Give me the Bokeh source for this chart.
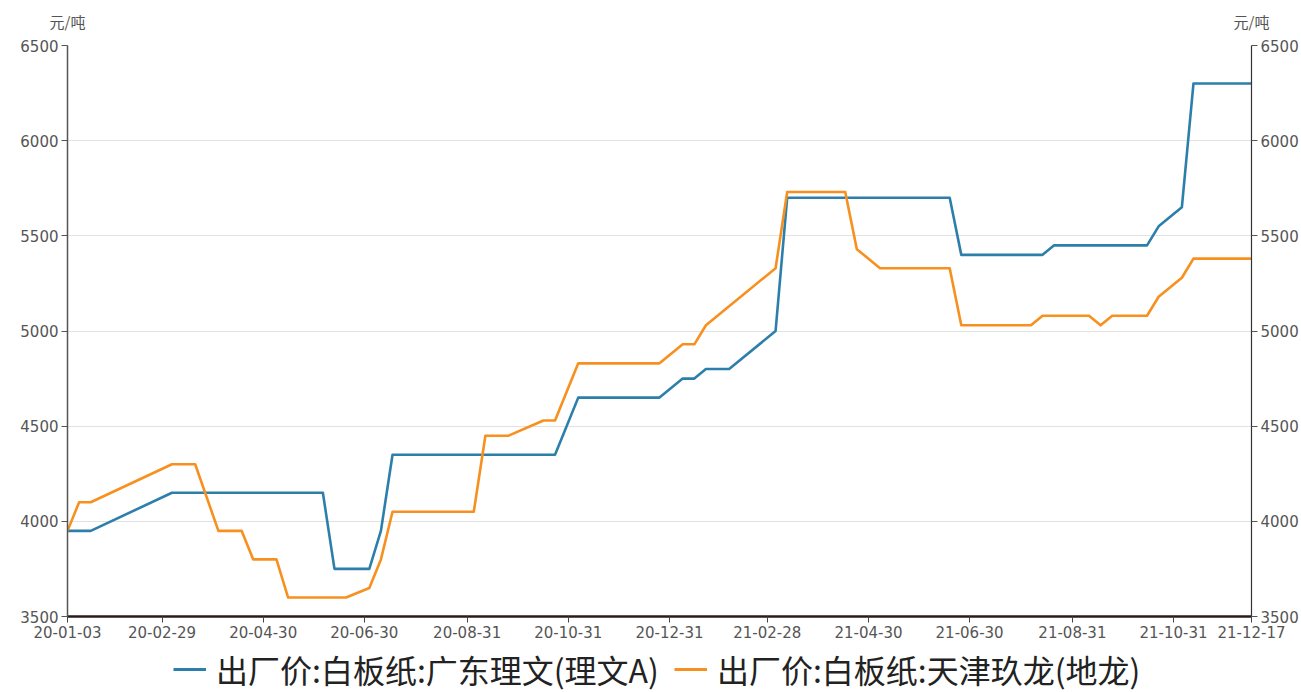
import pandas as pd
from bokeh.plotting import figure
from bokeh.layouts import column
from bokeh.models import (Range1d, LinearAxis, FixedTicker, DatetimeTickFormatter,
                          Legend, LegendItem, SingleIntervalTicker, CustomJSTickFormatter)
from bokeh.embed import file_html
from bokeh.resources import INLINE

# ---------------- data ----------------
tick_dates = ["2020-01-03", "2020-02-29", "2020-04-30", "2020-06-30", "2020-08-31",
              "2020-10-31", "2020-12-31", "2021-02-28", "2021-04-30", "2021-06-30",
              "2021-08-31", "2021-10-31", "2021-12-17"]

name_a = "出厂价:白板纸:广东理文(理文A)"
dates_a = ["2020-01-03", "2020-01-17", "2020-03-06", "2020-06-05", "2020-06-12",
           "2020-07-03", "2020-07-10", "2020-07-17", "2020-10-23", "2020-11-06",
           "2020-12-25", "2021-01-08", "2021-01-15", "2021-01-22", "2021-02-05",
           "2021-03-05", "2021-03-12", "2021-06-18", "2021-06-25", "2021-08-13",
           "2021-08-20", "2021-10-15", "2021-10-22", "2021-11-05", "2021-11-12",
           "2021-12-17"]
vals_a = [3950, 3950, 4150, 4150, 3750, 3750, 3950, 4350, 4350, 4650,
          4650, 4750, 4750, 4800, 4800, 5000, 5700, 5700, 5400, 5400,
          5450, 5450, 5550, 5650, 6300, 6300]

name_b = "出厂价:白板纸:天津玖龙(地龙)"
dates_b = ["2020-01-03", "2020-01-10", "2020-01-17", "2020-03-06", "2020-03-20",
           "2020-04-03", "2020-04-17", "2020-04-24", "2020-05-08", "2020-05-15",
           "2020-06-19", "2020-07-03", "2020-07-10", "2020-07-17", "2020-09-04",
           "2020-09-11", "2020-09-25", "2020-10-16", "2020-10-23", "2020-11-06",
           "2020-12-25", "2021-01-08", "2021-01-15", "2021-01-22", "2021-03-05",
           "2021-03-12", "2021-04-16", "2021-04-23", "2021-05-07", "2021-06-18",
           "2021-06-25", "2021-08-06", "2021-08-13", "2021-09-10", "2021-09-17",
           "2021-09-24", "2021-10-15", "2021-10-22", "2021-11-05", "2021-11-12",
           "2021-12-17"]
vals_b = [3950, 4100, 4100, 4300, 4300, 3950, 3950, 3800, 3800, 3600,
          3600, 3650, 3800, 4050, 4050, 4450, 4450, 4530, 4530, 4830,
          4830, 4930, 4930, 5030, 5330, 5730, 5730, 5430, 5330, 5330,
          5030, 5030, 5080, 5080, 5030, 5080, 5080, 5180, 5280, 5380,
          5380]

y_min, y_max, y_step = 3500, 6500, 500
unit = "元/吨"

# ---------------- main figure ----------------
xa = pd.to_datetime(dates_a)
xb = pd.to_datetime(dates_b)
ticks = pd.to_datetime(tick_dates)
x0, x1 = ticks[0], ticks[-1]

W = 1301
p = figure(width=W, height=644, x_axis_type="datetime",
           x_range=Range1d(x0, x1), y_range=Range1d(y_min, y_max),
           output_backend="svg", toolbar_location=None,
           min_border_left=67, min_border_right=49, min_border_top=45,
           min_border_bottom=28)
p.title.visible = False
p.outline_line_color = None
p.background_fill_color = "white"
p.border_fill_color = "white"

blue = "#2d7fab"
orange = "#f7901e"
p.line(xa, vals_a, line_color=blue, line_width=2.6, line_join="round")
p.line(xb, vals_b, line_color=orange, line_width=2.6, line_join="round")

FONT_NUM = "DejaVu Sans"
FONT_CJK = "Noto Sans CJK SC"
TXT = "#555555"

# x axis
xaxis = p.xaxis[0]
tick_ms = [t.value / 1e6 for t in ticks]
xaxis.ticker = FixedTicker(ticks=tick_ms)
fmt = "%y-%m-%d"
xaxis.formatter = DatetimeTickFormatter(
    microseconds=fmt, milliseconds=fmt, seconds=fmt, minsec=fmt, minutes=fmt,
    hourmin=fmt, hours=fmt, days=fmt, months=fmt, years=fmt)
xaxis.axis_line_color = "#2a1a1a"
xaxis.axis_line_width = 2.5
xaxis.major_tick_line_color = "#444444"
xaxis.major_tick_out = 6
xaxis.major_tick_in = 0
xaxis.minor_tick_line_color = None
xaxis.major_label_text_font = FONT_NUM
xaxis.major_label_text_font_size = "15px"
xaxis.major_label_text_color = TXT
xaxis.major_label_standoff = 3

# left y axis
yticker = SingleIntervalTicker(interval=y_step)
yaxis = p.yaxis[0]
yaxis.ticker = yticker
yaxis.axis_line_color = "#555555"
yaxis.axis_line_width = 1.5
yaxis.major_tick_line_color = "#555555"
yaxis.major_tick_out = 6
yaxis.major_tick_in = 0
yaxis.minor_tick_line_color = None
yaxis.major_label_text_font = FONT_NUM
yaxis.major_label_text_font_size = "15px"
yaxis.major_label_text_color = TXT
yaxis.major_label_standoff = 3

# right y axis
ry = LinearAxis(ticker=SingleIntervalTicker(interval=y_step))
ry.axis_line_color = "#333333"
ry.axis_line_width = 1.2
ry.major_tick_line_color = "#555555"
ry.major_tick_out = 6
ry.major_tick_in = 0
ry.minor_tick_line_color = None
ry.major_label_text_font = FONT_NUM
ry.major_label_text_font_size = "15px"
ry.major_label_text_color = TXT
ry.major_label_standoff = 3
p.add_layout(ry, "right")

# unit labels above both y axes (an invisible top axis carrying two labels)
ua = LinearAxis(ticker=FixedTicker(ticks=[tick_ms[0], tick_ms[-1]]),
                formatter=CustomJSTickFormatter(code="return %r;" % unit))
ua.axis_line_color = None
ua.major_tick_line_color = None
ua.minor_tick_line_color = None
ua.major_tick_out = 0
ua.major_label_standoff = 14
ua.major_label_text_font = FONT_CJK
ua.major_label_text_font_size = "15px"
ua.major_label_text_color = TXT
p.add_layout(ua, "above")

p.xgrid.visible = False
p.ygrid.ticker = yticker
p.ygrid.grid_line_color = "#e2e2e2"
p.ygrid.grid_line_width = 1

# ---------------- legend strip ----------------
# same series drawn again, but kept outside this strip's view: only the legend shows
lg = figure(width=W, height=48, output_backend="svg", toolbar_location=None,
            x_axis_location=None, y_axis_location=None,
            x_range=Range1d(x0, x1), y_range=Range1d(0, 1),
            min_border=0, min_border_left=0, min_border_right=0,
            min_border_top=0, min_border_bottom=0)
lg.title.visible = False
lg.grid.visible = False
lg.outline_line_color = None
la = lg.line(xa, vals_a, line_color=blue, line_width=3)
lb = lg.line(xb, vals_b, line_color=orange, line_width=3)
legend = Legend(items=[LegendItem(label=name_a, renderers=[la]),
                       LegendItem(label=name_b, renderers=[lb])],
                orientation="horizontal", location=(106, 0),
                label_text_font=FONT_CJK, label_text_font_size="32px",
                label_text_color="#222222", glyph_width=33, glyph_height=30,
                label_standoff=10, spacing=15, padding=0, margin=0,
                border_line_color=None, background_fill_alpha=0)
lg.add_layout(legend)

layout = column(p, lg, spacing=0)
open("out.html", "w").write(file_html(layout, INLINE))
